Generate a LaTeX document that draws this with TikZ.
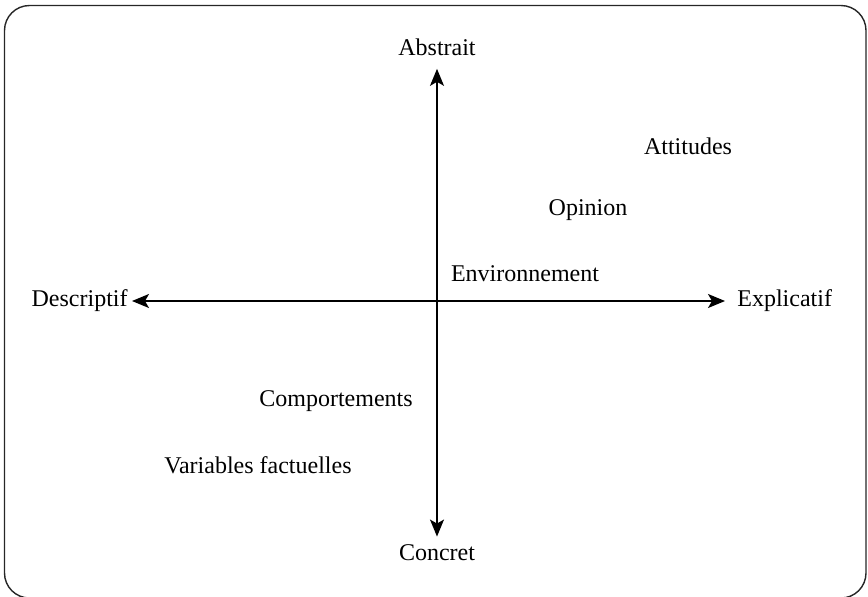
\documentclass[tikz,border=0pt]{standalone}
\usepackage{fontspec}
\setmainfont{Liberation Serif}
\usetikzlibrary{arrows.meta}
\begin{document}
\begin{tikzpicture}[x=0.5pt,y=-0.5pt,
		lbl/.style={font=\fontsize{12}{14}\selectfont, inner sep=2pt},
		axe/.style={line width=0.7pt, {Stealth[length=8.5pt,width=7pt,inset=2pt]}-{Stealth[length=8.5pt,width=7pt,inset=2pt]}}]
			\useasboundingbox (0,0) rectangle (868,596);
			\draw [line width=0.7pt, color=black!85, rounded corners=12.5pt] (4.5,5.5) rectangle (866,598);
			\node [lbl] (abstrait) at (437,47) {Abstrait};
			\node [lbl] (concret) at (437,553) {Concret};
			\node [lbl, anchor=east] (descriptif) at (132,301) {Descriptif};
			\node [lbl, anchor=west] (explicatif) at (733,301) {Explicatif};
			\draw [axe, shorten <=4.5pt, shorten >=2pt] (abstrait) -- (concret);
			\draw [axe, shorten >=4pt] (descriptif) -- (explicatif);
			\node [lbl] (attitudes) at (688,146) {Attitudes};
			\node [lbl] (opinion) at (588,210) {Opinion};
			\node [lbl] (environnement) at (525,274) {Environnement};
			\node [lbl] (comportements) at (336,401) {Comportements};
			\node [lbl] (variables) at (258,465) {Variables factuelles};
		\end{tikzpicture}
\end{document}
